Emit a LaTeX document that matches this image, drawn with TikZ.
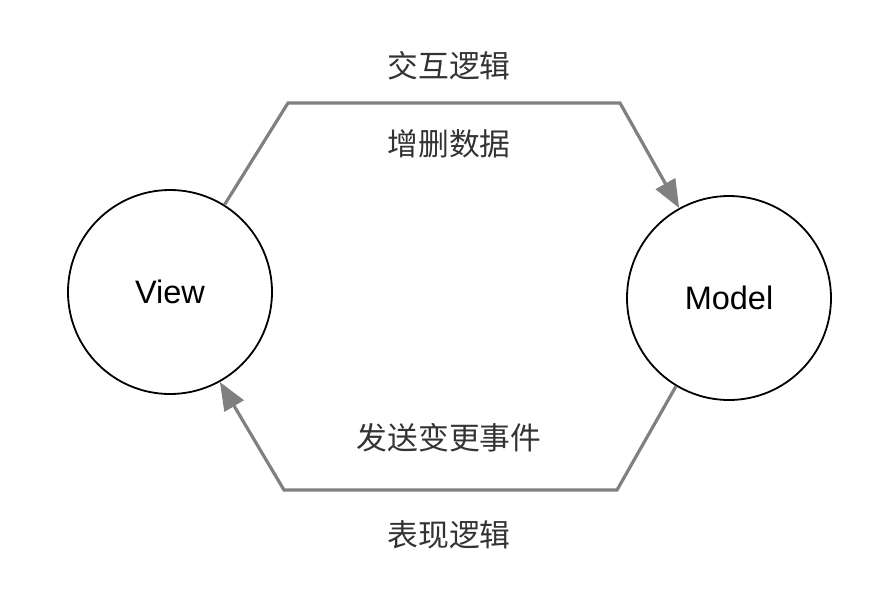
\documentclass[tikz,border=0pt]{standalone}
\usepackage{fontspec}
\setmainfont{Liberation Sans}
\newfontfamily\cjk{Noto Sans CJK SC}
\usetikzlibrary{arrows.meta}
\definecolor{linegray}{HTML}{808080}
\definecolor{txtgray}{HTML}{333333}
\begin{document}
\begin{tikzpicture}[x=1pt,y=-1pt,
  circ/.style={circle,draw=black,line width=1.8pt,minimum size=204pt,inner sep=0pt,font=\fontsize{32.5}{38}\selectfont},
  lbl/.style={text=txtgray,font=\cjk\fontsize{30.8}{36}\selectfont,inner sep=0pt},
  conn/.style={draw=linegray,line width=3.2pt,line join=miter},
  tip/.style={-{Triangle[length=28pt,width=22pt]}}]
\useasboundingbox (0,0) rectangle (896,592);
\node[circ] (view) at (170,292) {View};
\node[circ] (model) at (729,298) {Model};
\coordinate (t1) at (288,103);
\coordinate (t2) at (620,103);
\coordinate (b1) at (617,490);
\coordinate (b2) at (284,490);
\draw[conn,tip] (view.58) -- (t1) -- (t2) -- (model.119);
\draw[conn,tip] (model.239) -- (b1) -- (b2) -- (view.299);
\node[lbl] (l1) at (449,66) {交互逻辑};
\node[lbl] (l2) at (449,144) {增删数据};
\node[lbl] (l3) at (449,438) {发送变更事件};
\node[lbl] (l4) at (449,535) {表现逻辑};
\end{tikzpicture}
\end{document}
